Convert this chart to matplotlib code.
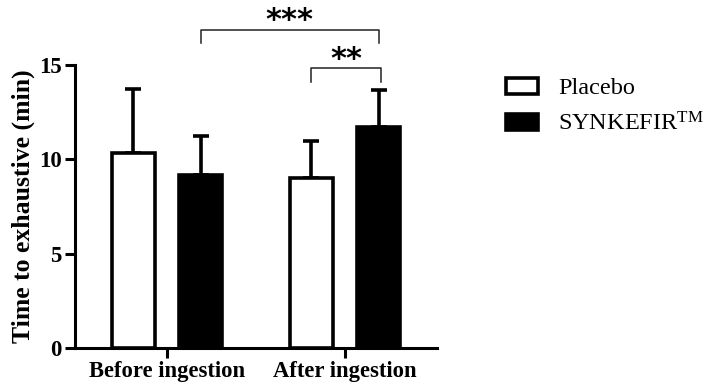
import matplotlib
matplotlib.use("Agg")
import matplotlib.pyplot as plt
import numpy as np
from matplotlib.patches import Patch

groups = ["Before ingestion", "After ingestion"]
series = ["Placebo", "SYNKEFIR$^{\\mathrm{TM}}$"]
placebo_mean = [10.33, 9.01]
placebo_sd = [3.39, 1.96]
synk_mean = [9.17, 11.71]
synk_sd = [2.07, 1.96]
yticks = [0, 5, 10, 15]

plt.rcParams['font.family'] = ['Liberation Serif', 'DejaVu Serif']
plt.rcParams['mathtext.fontset'] = 'custom'
plt.rcParams['mathtext.rm'] = 'Liberation Serif'
plt.rcParams['mathtext.it'] = 'Liberation Serif:italic'
plt.rcParams['mathtext.bf'] = 'Liberation Serif:bold'

fig = plt.figure(figsize=(7.07, 3.92), dpi=100)
ax = fig.add_axes([75/707, 44/392, 362/707, 283/392])

x = np.arange(len(groups))
w = 0.24
off = 0.19
lw = 2.6
ax.bar(x - off, placebo_mean, w, color='white', edgecolor='black', linewidth=lw, zorder=3)
ax.bar(x + off, synk_mean, w, color='black', edgecolor='black', linewidth=lw, zorder=3)
ax.errorbar(x - off, placebo_mean, yerr=[np.zeros(2), placebo_sd], fmt='none',
            ecolor='black', elinewidth=lw, capsize=6, capthick=lw, zorder=2)
ax.errorbar(x + off, synk_mean, yerr=[np.zeros(2), synk_sd], fmt='none',
            ecolor='black', elinewidth=lw, capsize=6, capthick=lw, zorder=2)

ax.set_xlim(-0.517, 1.517)
ax.set_ylim(0, 15)
ax.set_yticks(yticks)
ax.set_yticklabels([str(t) for t in yticks], fontsize=16.5, fontweight='bold')
ax.set_xticks(x)
ax.set_xticklabels(groups, fontsize=16.3, fontweight='bold')
ax.set_ylabel("Time to exhaustive (min)", fontsize=18.5, fontweight='bold', labelpad=3)
for s in ['top', 'right']:
    ax.spines[s].set_visible(False)
for s in ['left', 'bottom']:
    ax.spines[s].set_linewidth(2.2)
ax.tick_params(axis='both', width=2.2, length=7.5, pad=2)

# significance brackets
def bracket(x1, x2, y, h, text, ty):
    ax.plot([x1, x1, x2, x2], [y - h, y, y, y - h], color='#222222', lw=1.1,
            clip_on=False)
    ax.text((x1 + x2) / 2, ty, text, ha='center', va='baseline', fontsize=22,
            fontweight='bold', family='DejaVu Sans', clip_on=False)

bracket(x[0] + off, x[1] + off, 16.85, 0.69, "***", 16.93)
bracket(x[1] - off + 0.0, x[1] + off + 0.01, 14.84, 0.74, "**", 14.86)

handles = [Patch(facecolor='white', edgecolor='black', linewidth=2.6),
           Patch(facecolor='black', edgecolor='black', linewidth=2.6)]
fig.legend(handles, series, loc='upper left', bbox_to_anchor=(484/707, 1 - 56/392),
           frameon=False, fontsize=17.5, handlelength=1.32, handleheight=0.62,
           labelspacing=0.55, handletextpad=0.82)

fig.savefig("out.png", dpi=100)
